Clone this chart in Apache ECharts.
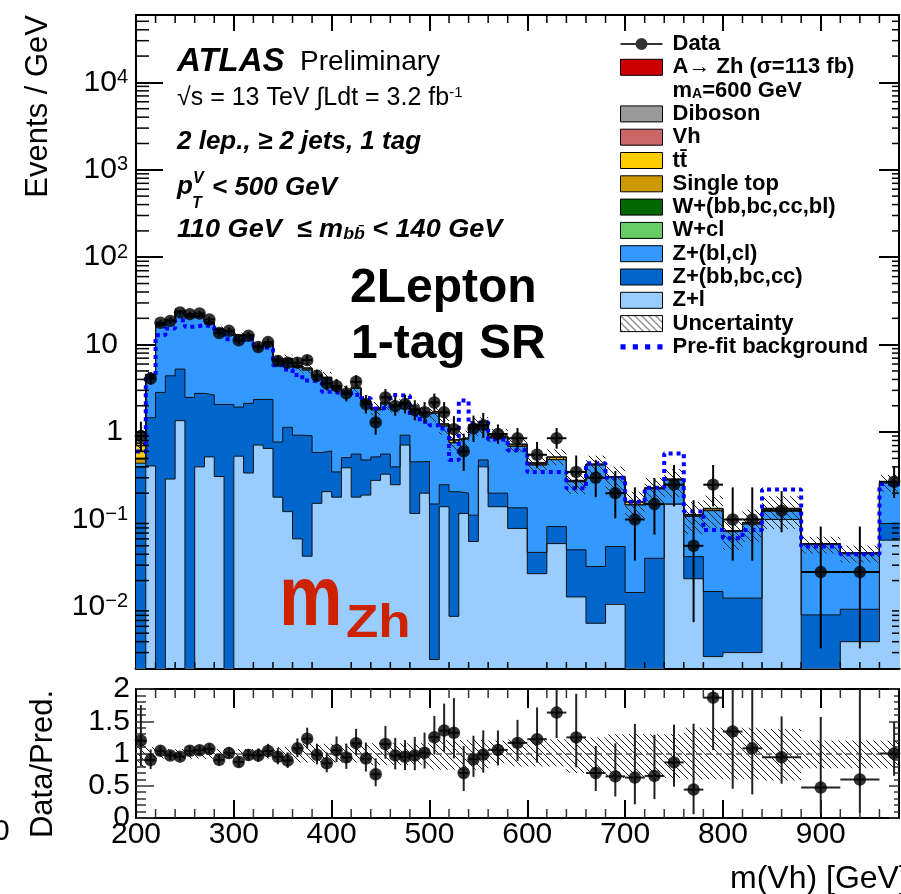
<!DOCTYPE html>
<html><head><meta charset="utf-8">
<script src="https://cdn.jsdelivr.net/npm/echarts@6/dist/echarts.min.js"></script>
<style>html,body{margin:0;padding:0;background:#fff;overflow:hidden}#c{width:901px;height:894px}</style>
</head><body><div id="c"></div>
<script>
// ---------------- data ----------------
const binEdges = [200,210,220,230,240,250,260,270,280,290,300,310,320,330,340,350,360,370,380,390,
  400,410,420,430,440,450,460,470,480,490,500,510,520,530,540,550,560,
  580,600,620,640,660,680,700,720,740,760,780,800,820,840,880,920,960,990];
const dataVals = [0.90,4.1,17.8,18.7,23.3,22.3,22.7,19.4,13.6,14.4,
  11.2,12.6,9.4,10.7,6.5,6.2,6.2,6.65,4.4,3.6,
  3.36,2.77,3.76,2.09,1.29,2.49,1.98,2.09,1.78,1.68,
  2.18,1.68,1.08,0.60,1.10,1.20,0.95,0.85,0.55,0.85,
  0.35,0.30,0.20,0.10,0.15,0.25,0.05,0.25,0.10,0.10,
  0.126,0.025,0.025,0.27];
const zLight = [0,0.41,0,0.29,1.35,0,0.40,0.52,0.31,0,
  0.53,0.34,0.71,0.65,0.18,0.123,0.060,0.038,0.153,0.208,
  0.18,0.39,0.18,0.19,0.28,0.33,0.25,0.71,0.117,0.20,
  0.0025,0.14,0.0078,0.117,0.056,0.40,0.14,0.079,0.024,0.053,
  0.013,0.0065,0.0107,0,0,0.150,0.021,0.0027,0.0030,0.0030,
  0.10,0,0.004,0.058];
const zHeavy = [0.40,1.05,2.84,4.11,3.90,2.49,2.37,2.13,1.76,2.07,
  1.40,1.79,1.65,1.71,0.59,1.01,0.86,0.87,0.43,0.40,
  0.17,0.12,0.38,0.29,0.24,0.23,0.15,0.21,0.34,0.26,
  0.148,0.11,0.20,0.083,0.056,0.08,0.06,0.057,0.018,0.030,
  0.032,0.0225,0.0383,0.0146,0.036,0,0.0166,0.0123,0.0096,0.0096,
  0,0.0081,0.0054,0.032];
const zMixed = [0.04,2.92,13.71,14.3,18.5,18.11,18.15,14.87,12.52,11.8,
  10.57,10.4,7.04,7.64,5.84,5.62,4.62,4.22,3.77,3.5,
  2.74,2.35,2.59,1.72,1.27,1.54,1.575,1.22,1.32,1.15,
  1.5,0.92,0.545,0.63,1.068,0.71,0.655,0.552,0.378,0.401,
  0.225,0.391,0.253,0.132,0.188,0.133,0.071,0.111,0.060,0.076,
  0.028,0.0434,0.031,0.172];
const ttbar = [0.25,0.12,0.3,0.35,0.45,0.5,0.4,0.35,0.3,0.25,
  0.25,0.22,0.18,0.18,0.14,0.13,0.12,0.2,0.08,0.07,
  0.06,0.05,0.05,0.04,0.06,0.04,0.035,0.03,0.03,0.025,
  0.06,0.05,0.05,0.015,0.015,0.015,0.03,0.025,0.01,0.025,
  0.005,0.005,0.004,0.01,0.003,0.003,0.002,0.005,0,0.002,
  0.003,0,0,0.004];
const singleTop = [0.05,0.03,0.1,0.1,0.1,0.1,0.08,0.08,0.06,0.06,
  0.05,0.05,0.04,0.04,0.03,0.03,0.03,0.03,0.02,0.02,
  0.02,0.01,0.01,0.01,0.01,0.01,0.01,0.01,0.01,0.01,
  0.01,0.01,0.005,0.005,0.005,0.005,0.005,0.004,0.003,0.003,
  0.002,0.002,0.001,0.001,0.001,0.001,0.001,0.001,0.001,0.001,
  0.001,0.0005,0.0005,0.001];
const diboson = [0.01,0.03,0.15,0.15,0.2,0.2,0.2,0.15,0.15,0.12,
  0.1,0.1,0.08,0.08,0.06,0.06,0.05,0.05,0.04,0.04,
  0.03,0.03,0.03,0.02,0.04,0.02,0.02,0.02,0.02,0.015,
  0.02,0.01,0.01,0.01,0.01,0.01,0.01,0.01,0.005,0.005,
  0.003,0.003,0.003,0.002,0.002,0.003,0.002,0.002,0.001,0.001,
  0.002,0.001,0.001,0.003];
const signal = [0,0,0,0,0,0,0,0,0,0,
  0,0,0,0,0,0,0,0,0,0,
  0,0,0,0,0,0,0,0,0,0,
  0,0,0,0,0,0,0,0.003,0.012,0.003,
  0,0,0,0,0,0,0,0,0,0,
  0,0,0,0];
const prefit = [0.6,4.4,12.8,15.3,19,16,16.7,16,14,11.5,
  11.2,11.7,9.4,9.0,5.8,5.2,4.5,3.9,3.7,2.9,
  2.8,2.95,2.65,2.43,1.86,1.9,2.65,2.6,1.56,1.31,
  1.2,1.1,0.48,2.3,1.26,1.3,0.82,0.62,0.35,0.35,
  0.227,0.44,0.30,0.16,0.23,0.57,0.123,0.076,0.061,0.076,
  0.22,0.049,0.040,0.255];
const uncUp = [0.14,0.10,0.07,0.07,0.07,0.07,0.07,0.07,0.07,0.07,
  0.07,0.07,0.07,0.07,0.10,0.10,0.15,0.15,0.15,0.15,
  0.15,0.15,0.15,0.15,0.16,0.16,0.16,0.16,0.16,0.16,
  0.21,0.21,0.21,0.21,0.21,0.21,0.20,0.22,0.22,0.22,
  0.25,0.25,0.30,0.30,0.30,0.30,0.40,0.40,0.40,0.40,
  0.38,0.20,0.20,0.20];
const uncDown = [0.22,0.12,0.08,0.08,0.08,0.08,0.08,0.08,0.08,0.08,
  0.08,0.08,0.08,0.08,0.12,0.12,0.14,0.14,0.14,0.14,
  0.14,0.14,0.14,0.14,0.18,0.18,0.18,0.18,0.18,0.18,
  0.25,0.25,0.25,0.25,0.25,0.25,0.15,0.20,0.20,0.20,
  0.30,0.30,0.38,0.38,0.38,0.38,0.40,0.40,0.40,0.40,
  0.42,0.23,0.23,0.23];

// ---------------- helpers ----------------
const FONT = "'Liberation Sans', Arial, Helvetica, sans-serif";
const X_MIN = 200, X_MAX = 980, Y_MIN = 0.002, Y_MAX = 59000, FLOOR = 1e-5;
const NB = dataVals.length;

function makeHatch(){
  const s = 7, c = document.createElement('canvas');
  c.width = s; c.height = s;
  const g = c.getContext('2d');
  g.strokeStyle = '#222'; g.lineWidth = 1;
  g.beginPath();
  g.moveTo(-2,-2); g.lineTo(s+2,s+2);
  g.moveTo(-2,s-2); g.lineTo(2,s+2);
  g.moveTo(s-2,-2); g.lineTo(s+2,2);
  g.stroke();
  return {image: c, repeat: 'repeat'};
}
const hatch = makeHatch();

const sigName = 'A\u2192 Zh (\u03C3=113 fb)';
const ttName = 't\u0074\u0304';
const layerDefs = [
  {name:'Z+l', vals: zLight, color:'#99ccff'},
  {name:'Z+(bb,bc,cc)', vals: zHeavy, color:'#0066cc'},
  {name:'Z+(bl,cl)', vals: zMixed, color:'#3399ff'},
  {name:'Single top', vals: singleTop, color:'#cc9900'},
  {name:ttName, vals: ttbar, color:'#ffcc00'},
  {name:'Diboson', vals: diboson, color:'#999999'},
  {name:sigName, vals: signal, color:'#cc0000'}
];
const cum = [];
let run = new Array(NB).fill(0);
layerDefs.forEach(L => { run = run.map((r,i) => r + L.vals[i]); cum.push(run.slice()); });
const total = cum[cum.length-1];

function stepPts(v){
  const pts = v.map((y,i) => [binEdges[i], Math.max(y, FLOOR)]);
  pts.push([binEdges[NB], Math.max(v[NB-1], FLOOR)]);
  return pts;
}

const errRows = [], markerRows = [], bandRows = [], rBandRows = [], rErrRows = [], rMarkerRows = [];
for (let i = 0; i < NB; i++){
  const lo = binEdges[i], hi = binEdges[i+1], w = hi - lo, xc = (lo+hi)/2;
  const y = dataVals[i], n = y*w;
  const up = (Math.sqrt(n+0.75)+1)/w, dn = Math.sqrt(Math.max(n-0.25,0))/w;
  errRows.push([xc, y, lo, hi, Math.max(y-dn, FLOOR), y+up]);
  markerRows.push([xc, y]);
  bandRows.push([lo, hi, total[i]*(1+uncUp[i]), total[i]*(1-uncDown[i])]);
  rBandRows.push([lo, hi, 1+uncUp[i], 1-uncDown[i]]);
  const r = y/total[i];
  rErrRows.push([xc, r, lo, hi, r - dn/total[i], r + up/total[i]]);
  rMarkerRows.push([xc, r]);
}

// tick positions (axis decoration)
const yMinor = [];
for (let k = -3; k <= 4; k++) for (let m = 2; m <= 9; m++){ const v = m*Math.pow(10,k); if (v > Y_MIN*1.0001 && v < Y_MAX) yMinor.push([X_MIN, v]); }
const xMinor = [];
for (let v = 220; v < X_MAX; v += 20) if (v % 100 !== 0) xMinor.push([v, 1]);

// ---------------- chart ----------------
const chart = echarts.init(document.getElementById('c'), null, {width:901, height:894, renderer:'canvas'});

const series = [];
for (let k = cum.length-1; k >= 0; k--){
  const L = layerDefs[k];
  series.push({type:'line', name:L.name, xAxisIndex:0, yAxisIndex:0, step:'end', data: stepPts(cum[k]),
    showSymbol:false, symbol:'none', color:L.color, silent:true, clip:true, z:2,
    lineStyle:{color:'#111', width:1}, areaStyle:{color:L.color, opacity:1, origin: Y_MIN}});
}
[['Vh','#cc6666'],['W+(bb,bc,cc,bl)','#006600'],['W+cl','#66cc66'],['mA','#ffffff']].forEach(p => {
  series.push({type:'line', name:p[0], xAxisIndex:0, yAxisIndex:0, data:[], color:p[1], silent:true});
});
series.push({type:'custom', name:'Uncertainty', xAxisIndex:0, yAxisIndex:0, data: bandRows, clip:true, silent:true, z:3,
  encode:{x:[0,1], y:[2,3]}, color:'#000',
  renderItem(p, api){
    const a = api.coord([api.value(0), api.value(2)]), b = api.coord([api.value(1), api.value(3)]);
    return {type:'rect', shape:{x:a[0], y:a[1], width:b[0]-a[0], height:b[1]-a[1]}, style:{fill:hatch, stroke:null}};
  }});
series.push({type:'line', name:'Pre-fit background', xAxisIndex:0, yAxisIndex:0, step:'end', data: stepPts(prefit),
  showSymbol:false, symbol:'none', color:'#0000ff', silent:true, clip:true, z:4,
  lineStyle:{color:'#0000ff', width:4, type:[4,4], cap:'butt'}});
function errRender(lw, col){
  return function(p, api){
    const xc = api.value(0), y = api.value(1);
    const t = api.coord([xc, api.value(5)]), b = api.coord([xc, api.value(4)]);
    const l = api.coord([api.value(2), y]), r = api.coord([api.value(3), y]);
    return {type:'group', children:[
      {type:'line', shape:{x1:t[0], y1:t[1], x2:b[0], y2:b[1]}, style:{stroke:col, lineWidth:lw}},
      {type:'line', shape:{x1:l[0], y1:l[1], x2:r[0], y2:r[1]}, style:{stroke:col, lineWidth:lw}}
    ]};
  };
}
series.push({type:'custom', name:'dataErr', xAxisIndex:0, yAxisIndex:0, data: errRows, clip:true, silent:true, z:5,
  encode:{x:0, y:1}, renderItem: errRender(2, '#000')});
series.push({type:'scatter', name:'Data', xAxisIndex:0, yAxisIndex:0, data: markerRows, symbol:'circle', symbolSize:12.5,
  color:'#000', itemStyle:{color:'#000'}, silent:true, z:6, clip:true});
series.push({type:'custom', name:'tickY', xAxisIndex:0, yAxisIndex:0, data: yMinor, silent:true, z:7, encode:{x:0,y:1},
  renderItem(p, api){
    const v = api.value(1), a = api.coord([X_MIN, v]), b = api.coord([X_MAX, v]);
    return {type:'group', children:[
      {type:'line', shape:{x1:a[0], y1:a[1], x2:a[0]+13, y2:a[1]}, style:{stroke:'#000', lineWidth:1.5}},
      {type:'line', shape:{x1:b[0], y1:b[1], x2:b[0]-7, y2:b[1]}, style:{stroke:'#000', lineWidth:1.5}}]};
  }});
series.push({type:'custom', name:'tickX', xAxisIndex:0, yAxisIndex:0, data: xMinor.map(d => [d[0], Y_MIN]), silent:true, z:7, encode:{x:0,y:1},
  renderItem(p, api){
    const v = api.value(0), a = api.coord([v, Y_MIN]), b = api.coord([v, Y_MAX]);
    return {type:'group', children:[
      {type:'line', shape:{x1:a[0], y1:a[1], x2:a[0], y2:a[1]-6}, style:{stroke:'#000', lineWidth:1.5}},
      {type:'line', shape:{x1:b[0], y1:b[1], x2:b[0], y2:b[1]+8}, style:{stroke:'#000', lineWidth:1.5}}]};
  }});
series.push({type:'custom', name:'ratioBand', xAxisIndex:2, yAxisIndex:2, data: rBandRows, clip:true, silent:true, z:3,
  encode:{x:[0,1], y:[2,3]},
  renderItem(p, api){
    const a = api.coord([api.value(0), api.value(2)]), b = api.coord([api.value(1), api.value(3)]);
    return {type:'rect', shape:{x:a[0], y:a[1], width:b[0]-a[0], height:b[1]-a[1]}, style:{fill:hatch, stroke:null}};
  },
  markLine:{silent:true, symbol:'none', label:{show:false}, animation:false,
    lineStyle:{color:'#555', type:[6,4], width:1.5}, data:[{yAxis:1}]}});
series.push({type:'custom', name:'ratioErr', xAxisIndex:2, yAxisIndex:2, data: rErrRows, clip:true, silent:true, z:5,
  encode:{x:0, y:1}, renderItem: errRender(2, '#222')});
series.push({type:'scatter', name:'ratioData', xAxisIndex:2, yAxisIndex:2, data: rMarkerRows, symbol:'circle', symbolSize:12.5,
  itemStyle:{color:'#000'}, silent:true, z:6, clip:true});
series.push({type:'custom', name:'tickRX', xAxisIndex:2, yAxisIndex:2, data: xMinor, silent:true, z:7, encode:{x:0,y:1},
  renderItem(p, api){
    const v = api.value(0), a = api.coord([v, 0]), b = api.coord([v, 2]);
    return {type:'group', children:[
      {type:'line', shape:{x1:a[0], y1:a[1], x2:a[0], y2:a[1]-9}, style:{stroke:'#333', lineWidth:1.5}},
      {type:'line', shape:{x1:b[0], y1:b[1], x2:b[0], y2:b[1]+9}, style:{stroke:'#333', lineWidth:1.5}}]};
  }});

function xAx(grid, pos, tick, labels, lw){
  return {gridIndex:grid, type:'value', min:X_MIN, max:X_MAX, interval:100, position:pos,
    axisLine:{show:true, onZero:false, lineStyle:{color:'#000', width:lw||2}},
    axisTick:{show:true, inside:true, length:tick, lineStyle:{color:'#000', width:2}},
    minorTick:{show:false}, splitLine:{show:false},
    axisLabel: labels ? {show:true, fontSize:30, fontFamily:FONT, color:'#000', margin:2, showMaxLabel:false, showMinLabel:true}
                      : {show:false}};
}
const mainLabel = v => {
  const e = Math.round(Math.log10(v));
  if (e === 0) return '{p1|1}';
  if (e === 1) return '{p10|10}';
  return '{b|10}{sup|' + (e < 0 ? '\u2212' + (-e) : e) + '}';
};
const G = (o) => Object.assign({silent:true, z:50}, o);
const txt = (x, y, text, size, extra, el) => G(Object.assign({type:'text', x, y,
  style:Object.assign({text, fontFamily:FONT, fontSize:size, fill:'#000', align:'left', verticalAlign:'middle'}, extra||{})}, el||{}));
const BI = {fontWeight:'bold', fontStyle:'italic'};

const option = {
  animation:false,
  backgroundColor:'#fff',
  grid:[
    {left:136, right:2, top:15, height:653, outerBoundsMode:'none', containLabel:false},
    {left:136, right:2, top:689, height:129, outerBoundsMode:'none', containLabel:false}
  ],
  xAxis:[ xAx(0,'bottom',15,false,3), xAx(0,'top',16,false), xAx(1,'bottom',18,true), xAx(1,'top',19,false) ],
  yAxis:[
    {gridIndex:0, type:'log', logBase:10, min:Y_MIN, max:Y_MAX, position:'left',
      axisLine:{show:true, lineStyle:{color:'#000', width:2}},
      axisTick:{show:true, inside:true, length:27, lineStyle:{color:'#000', width:2}},
      splitLine:{show:false}, minorTick:{show:false},
      axisLabel:{show:true, formatter:mainLabel, fontSize:30, fontFamily:FONT, color:'#000', margin:8,
        showMinLabel:false, showMaxLabel:false,
        rich:{b:{fontSize:30, fontFamily:FONT, color:'#000', lineHeight:30, padding:[8,0,0,0], verticalAlign:'bottom'},
              sup:{fontSize:20, fontFamily:FONT, color:'#000', lineHeight:20, verticalAlign:'top'},
              p1:{fontSize:30, fontFamily:FONT, color:'#000', padding:[0,5,0,0]},
              p10:{fontSize:30, fontFamily:FONT, color:'#000', padding:[0,10,0,0]}}}},
    {gridIndex:0, type:'log', logBase:10, min:Y_MIN, max:Y_MAX, position:'right',
      axisLine:{show:true, lineStyle:{color:'#000', width:2}},
      axisTick:{show:true, inside:true, length:20, lineStyle:{color:'#000', width:2}},
      splitLine:{show:false}, minorTick:{show:false}, axisLabel:{show:false}},
    {gridIndex:1, type:'value', min:0, max:2, interval:0.5, position:'left',
      axisLine:{show:true, onZero:false, lineStyle:{color:'#000', width:2}},
      axisTick:{show:true, inside:true, length:18, lineStyle:{color:'#333', width:1.5}},
      minorTick:{show:true, splitNumber:5, length:10, lineStyle:{color:'#333', width:1.5}},
      splitLine:{show:false},
      axisLabel:{show:true, fontSize:30, fontFamily:FONT, color:'#000', margin:6}},
    {gridIndex:1, type:'value', min:0, max:2, interval:0.5, position:'right',
      axisLine:{show:true, onZero:false, lineStyle:{color:'#000', width:2}},
      axisTick:{show:true, inside:true, length:10, lineStyle:{color:'#333', width:1.5}},
      minorTick:{show:true, splitNumber:5, length:5, lineStyle:{color:'#333', width:1.5}},
      splitLine:{show:false}, axisLabel:{show:false}}
  ],
  legend:{
    orient:'vertical', left:620, top:33, padding:0, itemWidth:42, itemHeight:16, itemGap:1.3,
    selectedMode:false, z:20,
    textStyle:{fontFamily:FONT, fontSize:22, fontWeight:'bold', color:'#000', lineHeight:22, padding:[0,0,0,5],
      rich:{sub:{fontFamily:FONT, fontSize:14, fontWeight:'bold', color:'#000', lineHeight:12, verticalAlign:'bottom'}}},
    formatter: n => n === 'mA' ? 'm{sub|A}=600 GeV' : n,
    data:[
      {name:'Data', icon:'path://M0,7L42,7L42,9L0,9Z M27,8A6,6 0 1 1 15,8A6,6 0 1 1 27,8Z', itemStyle:{color:'#000', borderWidth:0}},
      {name:sigName, icon:'rect', itemStyle:{color:'#cc0000', borderColor:'#000', borderWidth:1}},
      {name:'mA', icon:'rect', itemStyle:{color:'rgba(0,0,0,0)', borderWidth:0, opacity:0}},
      {name:'Diboson', icon:'rect', itemStyle:{color:'#999999', borderColor:'#000', borderWidth:1}},
      {name:'Vh', icon:'rect', itemStyle:{color:'#cc6666', borderColor:'#000', borderWidth:1}},
      {name:ttName, icon:'rect', itemStyle:{color:'#ffcc00', borderColor:'#000', borderWidth:1}},
      {name:'Single top', icon:'rect', itemStyle:{color:'#cc9900', borderColor:'#000', borderWidth:1}},
      {name:'W+(bb,bc,cc,bl)', icon:'rect', itemStyle:{color:'#006600', borderColor:'#000', borderWidth:1}},
      {name:'W+cl', icon:'rect', itemStyle:{color:'#66cc66', borderColor:'#000', borderWidth:1}},
      {name:'Z+(bl,cl)', icon:'rect', itemStyle:{color:'#3399ff', borderColor:'#000', borderWidth:1}},
      {name:'Z+(bb,bc,cc)', icon:'rect', itemStyle:{color:'#0066cc', borderColor:'#000', borderWidth:1}},
      {name:'Z+l', icon:'rect', itemStyle:{color:'#99ccff', borderColor:'#000', borderWidth:1}},
      {name:'Uncertainty', icon:'rect', itemStyle:{color:hatch, borderColor:'#000', borderWidth:1}},
      {name:'Pre-fit background', icon:'path://M0,0h5v5h-5z M12,0h5v5h-5z M24,0h5v5h-5z M36,0h5v5h-5z', itemStyle:{color:'#0000ff', borderWidth:0}}
    ]
  },
  graphic:[
    txt(177, 62, 'ATLAS', 33, BI),
    txt(300, 62, 'Preliminary', 28),
    txt(177, 98, '\u221As = 13 TeV \u222BLdt = 3.2 fb{sup|-1}', 25,
      {rich:{sup:{fontFamily:FONT, fontSize:15, fill:'#000', lineHeight:12, verticalAlign:'top'}}}),
    txt(177, 142, '2 lep., \u2265 2 jets, 1 tag', 26, BI),
    txt(177, 187, 'p', 26, BI),
    txt(193, 179, 'V', 16, BI),
    txt(192, 204, 'T', 16, BI),
    txt(212, 188, '< 500 GeV', 26, BI),
    txt(177, 230, '110 GeV  \u2264 m{sub|b\u0062\u0304} < 140 GeV', 26, Object.assign({
      rich:{sub:{fontFamily:FONT, fontSize:17, fontWeight:'bold', fontStyle:'italic', fill:'#000', lineHeight:16, verticalAlign:'bottom', padding:[18,0,0,0]}}}, BI),
      {scaleX:1.04}),
    txt(350, 289, '2Lepton', 48, {fontWeight:'bold'}),
    txt(351, 345, '1-tag SR', 48, {fontWeight:'bold'}),
    txt(279, 601, 'm', 86, {fontWeight:'bold', fill:'#cc2200'}, {scaleX:0.83}),
    txt(346, 624, 'Zh', 46, {fontWeight:'bold', fill:'#cc2200'}, {scaleX:1.15}),
    txt(38, 15, 'Events / GeV', 31, {align:'right'}, {rotation:Math.PI/2}),
    txt(43, 764, 'Data/Pred.', 31, {align:'center'}, {rotation:Math.PI/2}),
    txt(730, 879, 'm(Vh) [GeV]', 32),
    txt(-7, 832, '0', 30)
  ],
  series
};
chart.setOption(option);
</script>
</body></html>
